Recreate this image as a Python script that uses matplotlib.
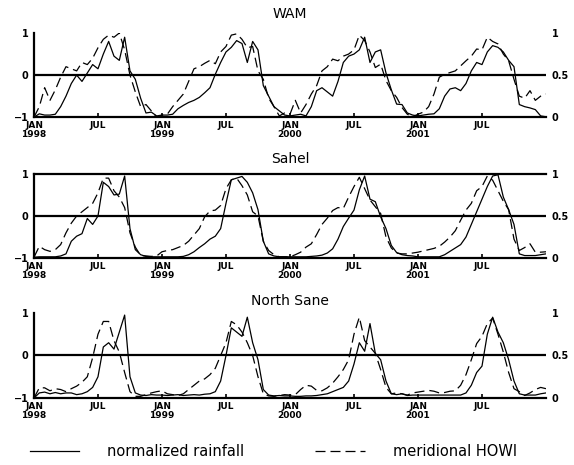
#!/usr/bin/env python3
"""WAM / Sahel / North Sahel: normalized rainfall vs meridional wind index, 1998-2001."""

import numpy as np
import matplotlib
matplotlib.use('Agg')
import matplotlib.pyplot as plt

# half-monthly values, Jan 1998 .. Jan 2002 (97 points), scaled -1..1
months = np.arange(97) / 2.0

tick_months = [0, 6, 12, 18, 24, 30, 36, 42]
tick_labels = ['JAN\n1998', 'JUL', 'JAN\n1999', 'JUL', 'JAN\n2000', 'JUL', 'JAN\n2001', 'JUL']

titles = ['WAM', 'Sahel', 'North Sane']
title_pads = [11, 8, 6]

# normalized rainfall (solid)
wam_rain = [
    -1.0, -0.92, -0.95, -0.95, -0.93, -0.75, -0.5, -0.2, 0.0, -0.15, 0.05, 0.25,
    0.15, 0.5, 0.8, 0.45, 0.35, 0.9, 0.1, -0.1, -0.55, -0.9, -0.88, -0.97,
    -0.95, -0.95, -0.93, -0.8, -0.72, -0.65, -0.6, -0.53, -0.42, -0.3, 0.02, 0.3,
    0.55, 0.66, 0.82, 0.75, 0.3, 0.8, 0.6, -0.25, -0.5, -0.75, -0.85, -0.95,
    -0.97, -0.95, -0.93, -0.97, -0.75, -0.37, -0.3, -0.4, -0.5, -0.15, 0.3, 0.45,
    0.5, 0.6, 0.9, 0.3, 0.55, 0.6, 0.05, -0.35, -0.69, -0.7, -0.9, -0.95,
    -0.97, -0.95, -0.93, -0.92, -0.8, -0.5, -0.33, -0.3, -0.37, -0.2, 0.1, 0.3,
    0.25, 0.55, 0.7, 0.66, 0.55, 0.35, 0.2, -0.7, -0.75, -0.78, -0.82, -0.97,
    -0.99,
]
sahel_rain = [
    -0.98, -0.97, -0.97, -0.97, -0.97, -0.95, -0.9, -0.6, -0.48, -0.42, -0.06, -0.2,
    0.0, 0.8, 0.7, 0.5, 0.52, 0.95, -0.3, -0.8, -0.92, -0.96, -0.97, -0.97,
    -0.97, -0.97, -0.97, -0.97, -0.96, -0.92, -0.85, -0.75, -0.66, -0.55, -0.48, -0.3,
    0.3, 0.86, 0.9, 0.94, 0.8, 0.55, 0.15, -0.6, -0.9, -0.95, -0.97, -0.97,
    -0.97, -0.97, -0.97, -0.97, -0.96, -0.95, -0.93, -0.88, -0.78, -0.55, -0.25, -0.05,
    0.14, 0.62, 0.95, 0.4, 0.34, -0.02, -0.3, -0.7, -0.87, -0.92, -0.94, -0.95,
    -0.97, -0.97, -0.97, -0.97, -0.97, -0.92, -0.84, -0.76, -0.68, -0.5, -0.2, 0.1,
    0.4, 0.7, 0.95, 0.98, 0.45, 0.15, -0.2, -0.9, -0.94, -0.94, -0.94, -0.92,
    -0.9,
]
nsahel_rain = [
    -1.0, -0.88, -0.86, -0.9, -0.87, -0.9, -0.88, -0.88, -0.92, -0.9, -0.85, -0.75,
    -0.5, 0.2, 0.3, 0.15, 0.55, 0.95, -0.5, -0.88, -0.93, -0.94, -0.92, -0.93,
    -0.93, -0.94, -0.93, -0.92, -0.94, -0.93, -0.92, -0.93, -0.91, -0.9, -0.85, -0.6,
    0.0, 0.65, 0.55, 0.45, 0.9, 0.3, -0.1, -0.8, -0.93, -0.95, -0.94, -0.95,
    -0.95, -0.96, -0.96, -0.95, -0.95, -0.94, -0.92, -0.9, -0.85, -0.8, -0.75, -0.6,
    -0.2, 0.3, 0.1, 0.75, 0.05, -0.1, -0.6, -0.9, -0.92, -0.9, -0.94, -0.93,
    -0.93, -0.93, -0.93, -0.93, -0.93, -0.93, -0.93, -0.93, -0.93, -0.88, -0.7, -0.4,
    -0.25, 0.5, 0.9, 0.55, 0.3, -0.1, -0.6, -0.9, -0.93, -0.93, -0.93, -0.9,
    -0.88,
]

# meridional index (dashed)
wam_wind = [
    -1.0, -0.75, -0.3, -0.6, -0.35, -0.05, 0.2, 0.15, 0.1, 0.3, 0.25, 0.4,
    0.65, 0.85, 0.95, 0.9, 1.0, 0.6, 0.0, -0.4, -0.75, -0.7, -0.85, -1.0,
    -0.95, -0.93, -0.75, -0.6, -0.45, -0.15, 0.15, 0.2, 0.28, 0.35, 0.27, 0.55,
    0.68, 0.95, 0.98, 0.85, 0.65, 0.68, 0.1, -0.1, -0.55, -0.75, -0.97, -0.9,
    -0.93, -0.6, -0.9, -0.7, -0.45, -0.25, 0.1, 0.2, 0.38, 0.34, 0.45, 0.5,
    0.6, 0.95, 0.82, 0.55, 0.18, 0.26, -0.13, -0.37, -0.53, -0.77, -0.93, -0.99,
    -0.93, -0.88, -0.75, -0.45, -0.05, 0.02, 0.06, 0.1, 0.22, 0.34, 0.45, 0.62,
    0.6, 0.9, 0.8, 0.74, 0.5, 0.34, -0.1, -0.5, -0.55, -0.37, -0.6, -0.5,
    -0.45,
]
sahel_wind = [
    -0.98, -0.72, -0.8, -0.84, -0.8, -0.68, -0.4, -0.17, 0.0, 0.1, 0.2, 0.3,
    0.55, 0.9, 0.9, 0.6, 0.45, 0.2, -0.4, -0.74, -0.94, -0.95, -0.96, -0.95,
    -0.85, -0.82, -0.8, -0.75, -0.7, -0.6, -0.45, -0.3, -0.02, 0.12, 0.14, 0.25,
    0.65, 0.86, 0.9, 0.72, 0.5, 0.1, 0.0, -0.6, -0.82, -0.92, -0.97, -0.97,
    -0.97, -0.92, -0.86, -0.74, -0.66, -0.44, -0.2, -0.05, 0.13, 0.2, 0.18, 0.45,
    0.7, 0.92, 0.65, 0.38, 0.22, 0.06, -0.5, -0.76, -0.88, -0.9, -0.9, -0.88,
    -0.86, -0.83, -0.8, -0.77, -0.72, -0.62, -0.5, -0.35, -0.1, 0.14, 0.3, 0.6,
    0.7, 0.95, 0.85, 0.6, 0.35, 0.15, -0.55, -0.82, -0.75, -0.66, -0.86, -0.86,
    -0.85,
]
nsahel_wind = [
    -1.0, -0.76, -0.76, -0.83, -0.78, -0.8, -0.85, -0.78, -0.72, -0.63, -0.5, -0.05,
    0.5, 0.8, 0.8, 0.35, 0.08, -0.4, -0.85, -0.96, -0.96, -0.92, -0.88, -0.85,
    -0.83, -0.9, -0.92, -0.94, -0.9, -0.8, -0.7, -0.6, -0.55, -0.45, -0.3, 0.0,
    0.3, 0.8, 0.72, 0.55, 0.3, 0.0, -0.5, -0.9, -0.95, -0.96, -0.94, -0.92,
    -0.93, -0.92, -0.8, -0.7, -0.72, -0.82, -0.83, -0.76, -0.65, -0.5, -0.33, -0.1,
    0.5, 0.9, 0.35, 0.2, 0.05, -0.33, -0.75, -0.9, -0.88, -0.9, -0.93, -0.88,
    -0.86, -0.84, -0.82, -0.84, -0.88, -0.87, -0.84, -0.83, -0.7, -0.45, -0.1, 0.28,
    0.45, 0.75, 0.88, 0.5, 0.08, -0.4, -0.78, -0.85, -0.94, -0.88, -0.8, -0.75,
    -0.78,
]

rain = [wam_rain, sahel_rain, nsahel_rain]
wind = [wam_wind, sahel_wind, nsahel_wind]

fig = plt.figure(figsize=(5.74, 4.65), dpi=100)
plt.rcParams['font.family'] = 'DejaVu Sans'

# axes rectangles in figure fractions (left, bottom, width, height)
rects = [
    (0.0592, 0.748, 0.892, 0.181),
    (0.0592, 0.445, 0.892, 0.181),
    (0.0592, 0.144, 0.892, 0.183),
]

for i, rect in enumerate(rects):
    ax = fig.add_axes(rect)
    l_rain, = ax.plot(months, rain[i], color='black', linewidth=0.9,
                      label='normalized rainfall')
    l_wind, = ax.plot(months, wind[i], color='black', linewidth=0.9,
                      linestyle=(0, (8, 4)), label='meridional HOWI')
    ax.axhline(0, color='black', linewidth=1.6)
    ax.set_xlim(0, 48)
    ax.set_ylim(-1, 1)

    for side in ['top', 'right']:
        ax.spines[side].set_visible(False)
    ax.spines['bottom'].set_linewidth(1.6)
    ax.spines['left'].set_linewidth(1.6)
    if i == 1:
        ax.axhline(1, color='black', linewidth=1.6, clip_on=False)

    ax.set_yticks([-1, 0, 1])
    ax.set_yticklabels(['\u22121', '0', '1'], fontsize=7, fontweight='bold')
    ax.tick_params(axis='y', length=0, pad=4)
    ax.set_xticks(tick_months)
    ax.set_xticklabels(tick_labels, fontsize=6.5, fontweight='bold', linespacing=0.9)
    ax.tick_params(axis='x', direction='in', length=3, width=1.2, pad=3)

    ax.set_title(titles[i], fontsize=10, pad=title_pads[i])

    axr = ax.twinx()
    axr.set_ylim(0, 1)
    axr.set_yticks([0, 0.5, 1])
    axr.set_yticklabels(['0', '0.5', '1'], fontsize=7, fontweight='bold')
    axr.tick_params(axis='y', length=0, pad=4)
    for side in ['top', 'right', 'left', 'bottom']:
        axr.spines[side].set_visible(False)

fig.legend(handles=[l_rain, l_wind], loc='center', bbox_to_anchor=(0.476, 0.028),
           ncol=2, frameon=False, fontsize=10.5, handlelength=3.4,
           handletextpad=1.9, columnspacing=4.9)

fig.savefig('out.png', dpi=100)
